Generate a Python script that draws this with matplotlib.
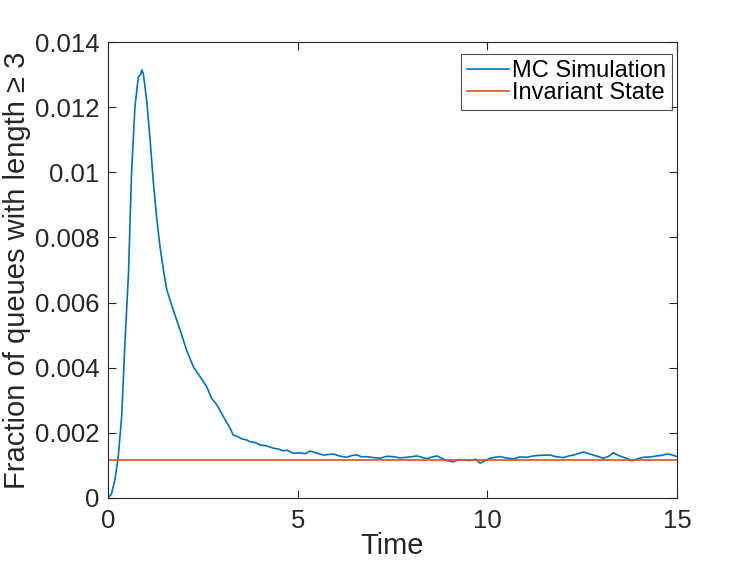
import matplotlib
matplotlib.use("Agg")
import matplotlib.pyplot as plt

# MC simulation curve
time = [
    0.0, 0.09, 0.18, 0.27, 0.36, 0.45, 0.54, 0.62, 0.71, 0.80, 0.86, 0.89,
    0.93, 1.02, 1.11, 1.19, 1.28, 1.37, 1.46, 1.55, 1.72, 1.90, 2.07, 2.25,
    2.43, 2.60, 2.73, 2.87, 3.04, 3.22, 3.30, 3.39, 3.52, 3.66, 3.74, 3.88,
    4.01, 4.18, 4.36, 4.50, 4.62, 4.71, 4.89, 5.06, 5.20, 5.33, 5.50, 5.68,
    5.94, 6.10, 6.29, 6.45, 6.56, 6.70, 6.82, 7.00, 7.17, 7.35, 7.52, 7.70,
    7.88, 8.14, 8.40, 8.55, 8.67, 8.80, 8.93, 9.10, 9.25, 9.37, 9.54, 9.70,
    9.81, 9.90, 10.07, 10.20, 10.33, 10.50, 10.69, 10.85, 11.04, 11.20,
    11.39, 11.65, 11.80, 12.00, 12.15, 12.27, 12.40, 12.53, 12.65, 12.79,
    13.06, 13.20, 13.32, 13.45, 13.59, 13.72, 13.81, 13.95, 14.11, 14.30,
    14.46, 14.60, 14.73, 14.85, 15.0,
]
fraction = [
    0.0, 0.00012, 0.00055, 0.00127, 0.0025, 0.00485, 0.0069, 0.00997, 0.01201,
    0.01293, 0.01300, 0.01314, 0.01304, 0.0122, 0.01099, 0.00976, 0.00864,
    0.00772, 0.0070, 0.00639, 0.00577, 0.00516, 0.00454, 0.00403, 0.00372,
    0.00342, 0.00306, 0.00286, 0.0025, 0.00214, 0.00193, 0.00190, 0.00182,
    0.00178, 0.00173, 0.00170, 0.00163, 0.00160, 0.00153, 0.00150, 0.00145,
    0.00147, 0.00137, 0.00139, 0.00136, 0.00144, 0.00138, 0.00132, 0.00135,
    0.00129, 0.00125, 0.00131, 0.00132, 0.00126, 0.00127, 0.00124, 0.00122,
    0.00128, 0.00127, 0.00123, 0.00125, 0.00129, 0.00121, 0.00126, 0.00129,
    0.00122, 0.00115, 0.00111, 0.00118, 0.00117, 0.00115, 0.00119, 0.00107,
    0.00112, 0.00122, 0.00125, 0.00127, 0.00123, 0.0012, 0.00126, 0.00125,
    0.00129, 0.00131, 0.00132, 0.00127, 0.00124, 0.00129, 0.00132, 0.00136,
    0.00141, 0.00137, 0.00132, 0.00122, 0.00128, 0.00139, 0.00131, 0.00125,
    0.00120, 0.00114, 0.00120, 0.00125, 0.00126, 0.00129, 0.00131, 0.00135,
    0.00133, 0.00127,
]
invariant_level = 0.00117

plt.rcParams['font.family'] = ['Liberation Sans', 'DejaVu Sans']

fig = plt.figure(figsize=(7.47, 5.61), dpi=100)
ax = fig.add_axes([0.1446, 0.1123, 0.7617, 0.8128])

ax.plot(time, fraction, color='#0072BD', lw=1.2, label='MC Simulation')
ax.plot([0, 15], [invariant_level, invariant_level], color='#D95319', lw=1.2,
        label='Invariant State')

ax.set_xlim(0, 15)
ax.set_ylim(0, 0.014)
ax.set_xticks([0, 5, 10, 15])
ax.set_yticks([0, 0.002, 0.004, 0.006, 0.008, 0.01, 0.012, 0.014])
ax.set_yticklabels(['0', '0.002', '0.004', '0.006', '0.008', '0.01',
                    '0.012', '0.014'])

axis_col = '#262626'
for s in ax.spines.values():
    s.set_color(axis_col)
    s.set_linewidth(0.8)
ax.tick_params(direction='in', length=6, width=0.8, colors=axis_col,
               labelsize=18.5, top=True, right=True)
ax.tick_params(axis='x', pad=8)
ax.tick_params(axis='y', pad=6)
for lab in ax.get_xticklabels() + ax.get_yticklabels():
    lab.set_color(axis_col)

ax.set_xlabel('Time', fontsize=21, color=axis_col, labelpad=-1)
ax.set_ylabel('Fraction of queues with length ≥ 3', fontsize=21,
              color=axis_col, labelpad=3)

leg = ax.legend(loc='upper right', bbox_to_anchor=(0.991, 0.974),
                borderaxespad=0, fontsize=17, frameon=True, fancybox=False,
                edgecolor=axis_col, handlelength=1.8, handletextpad=0.12,
                borderpad=0.25, labelspacing=0.0)
leg.get_frame().set_linewidth(0.8)

fig.savefig('out.png', dpi=100)
